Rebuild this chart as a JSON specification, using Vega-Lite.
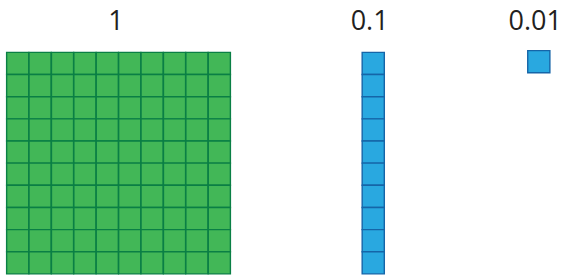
{
  "$schema": "https://vega.github.io/schema/vega-lite/v6.json",
  "width": 563,
  "height": 277,
  "autosize": {"type": "fit", "contains": "padding"},
  "padding": 0,
  "background": "white",
  "config": {"view": {"stroke": null}},
  "datasets": {
    "cells": [
      {"part":"1","c":0.5,"r":0.5},{"part":"1","c":1.5,"r":0.5},{"part":"1","c":2.5,"r":0.5},{"part":"1","c":3.5,"r":0.5},{"part":"1","c":4.5,"r":0.5},{"part":"1","c":5.5,"r":0.5},{"part":"1","c":6.5,"r":0.5},{"part":"1","c":7.5,"r":0.5},{"part":"1","c":8.5,"r":0.5},{"part":"1","c":9.5,"r":0.5},
      {"part":"1","c":0.5,"r":1.5},{"part":"1","c":1.5,"r":1.5},{"part":"1","c":2.5,"r":1.5},{"part":"1","c":3.5,"r":1.5},{"part":"1","c":4.5,"r":1.5},{"part":"1","c":5.5,"r":1.5},{"part":"1","c":6.5,"r":1.5},{"part":"1","c":7.5,"r":1.5},{"part":"1","c":8.5,"r":1.5},{"part":"1","c":9.5,"r":1.5},
      {"part":"1","c":0.5,"r":2.5},{"part":"1","c":1.5,"r":2.5},{"part":"1","c":2.5,"r":2.5},{"part":"1","c":3.5,"r":2.5},{"part":"1","c":4.5,"r":2.5},{"part":"1","c":5.5,"r":2.5},{"part":"1","c":6.5,"r":2.5},{"part":"1","c":7.5,"r":2.5},{"part":"1","c":8.5,"r":2.5},{"part":"1","c":9.5,"r":2.5},
      {"part":"1","c":0.5,"r":3.5},{"part":"1","c":1.5,"r":3.5},{"part":"1","c":2.5,"r":3.5},{"part":"1","c":3.5,"r":3.5},{"part":"1","c":4.5,"r":3.5},{"part":"1","c":5.5,"r":3.5},{"part":"1","c":6.5,"r":3.5},{"part":"1","c":7.5,"r":3.5},{"part":"1","c":8.5,"r":3.5},{"part":"1","c":9.5,"r":3.5},
      {"part":"1","c":0.5,"r":4.5},{"part":"1","c":1.5,"r":4.5},{"part":"1","c":2.5,"r":4.5},{"part":"1","c":3.5,"r":4.5},{"part":"1","c":4.5,"r":4.5},{"part":"1","c":5.5,"r":4.5},{"part":"1","c":6.5,"r":4.5},{"part":"1","c":7.5,"r":4.5},{"part":"1","c":8.5,"r":4.5},{"part":"1","c":9.5,"r":4.5},
      {"part":"1","c":0.5,"r":5.5},{"part":"1","c":1.5,"r":5.5},{"part":"1","c":2.5,"r":5.5},{"part":"1","c":3.5,"r":5.5},{"part":"1","c":4.5,"r":5.5},{"part":"1","c":5.5,"r":5.5},{"part":"1","c":6.5,"r":5.5},{"part":"1","c":7.5,"r":5.5},{"part":"1","c":8.5,"r":5.5},{"part":"1","c":9.5,"r":5.5},
      {"part":"1","c":0.5,"r":6.5},{"part":"1","c":1.5,"r":6.5},{"part":"1","c":2.5,"r":6.5},{"part":"1","c":3.5,"r":6.5},{"part":"1","c":4.5,"r":6.5},{"part":"1","c":5.5,"r":6.5},{"part":"1","c":6.5,"r":6.5},{"part":"1","c":7.5,"r":6.5},{"part":"1","c":8.5,"r":6.5},{"part":"1","c":9.5,"r":6.5},
      {"part":"1","c":0.5,"r":7.5},{"part":"1","c":1.5,"r":7.5},{"part":"1","c":2.5,"r":7.5},{"part":"1","c":3.5,"r":7.5},{"part":"1","c":4.5,"r":7.5},{"part":"1","c":5.5,"r":7.5},{"part":"1","c":6.5,"r":7.5},{"part":"1","c":7.5,"r":7.5},{"part":"1","c":8.5,"r":7.5},{"part":"1","c":9.5,"r":7.5},
      {"part":"1","c":0.5,"r":8.5},{"part":"1","c":1.5,"r":8.5},{"part":"1","c":2.5,"r":8.5},{"part":"1","c":3.5,"r":8.5},{"part":"1","c":4.5,"r":8.5},{"part":"1","c":5.5,"r":8.5},{"part":"1","c":6.5,"r":8.5},{"part":"1","c":7.5,"r":8.5},{"part":"1","c":8.5,"r":8.5},{"part":"1","c":9.5,"r":8.5},
      {"part":"1","c":0.5,"r":9.5},{"part":"1","c":1.5,"r":9.5},{"part":"1","c":2.5,"r":9.5},{"part":"1","c":3.5,"r":9.5},{"part":"1","c":4.5,"r":9.5},{"part":"1","c":5.5,"r":9.5},{"part":"1","c":6.5,"r":9.5},{"part":"1","c":7.5,"r":9.5},{"part":"1","c":8.5,"r":9.5},{"part":"1","c":9.5,"r":9.5},
      {"part":"0.1","c":16.37,"r":0.5},{"part":"0.1","c":16.37,"r":1.5},{"part":"0.1","c":16.37,"r":2.5},{"part":"0.1","c":16.37,"r":3.5},{"part":"0.1","c":16.37,"r":4.5},{"part":"0.1","c":16.37,"r":5.5},{"part":"0.1","c":16.37,"r":6.5},{"part":"0.1","c":16.37,"r":7.5},{"part":"0.1","c":16.37,"r":8.5},{"part":"0.1","c":16.37,"r":9.5},
      {"part":"0.01","c":23.76,"r":0.42}
    ],
    "labels": [
      {"label":"1","c":4.89,"r":-1.03},
      {"label":"0.1","c":16.21,"r":-1.03},
      {"label":"0.01","c":23.6,"r":-1.03}
    ]
  },
  "layer": [
    {
      "data": {"name": "cells"},
      "mark": {"type": "point", "shape": "square", "filled": true, "size": 490, "strokeWidth": 1.4, "opacity": 1},
      "encoding": {
        "x": {"field": "c", "type": "quantitative", "scale": {"domain": [-0.29, 24.84], "nice": false, "zero": false}, "axis": null},
        "y": {"field": "r", "type": "quantitative", "scale": {"domain": [-2.366, 9.96], "nice": false, "zero": false, "reverse": true}, "axis": null},
        "fill": {"field": "part", "type": "nominal", "scale": {"domain": ["1","0.1","0.01"], "range": ["#42b757","#29a8e0","#29a8e0"]}, "legend": null},
        "stroke": {"field": "part", "type": "nominal", "scale": {"domain": ["1","0.1","0.01"], "range": ["#0a7f45","#1565a8","#1565a8"]}, "legend": null}
      }
    },
    {
      "data": {"name": "labels"},
      "mark": {"type": "text", "font": "Open Sans", "fontSize": 27, "color": "#231f20", "baseline": "alphabetic", "align": "center"},
      "encoding": {
        "x": {"field": "c", "type": "quantitative"},
        "y": {"field": "r", "type": "quantitative"},
        "text": {"field": "label", "type": "nominal"}
      }
    }
  ]
}
